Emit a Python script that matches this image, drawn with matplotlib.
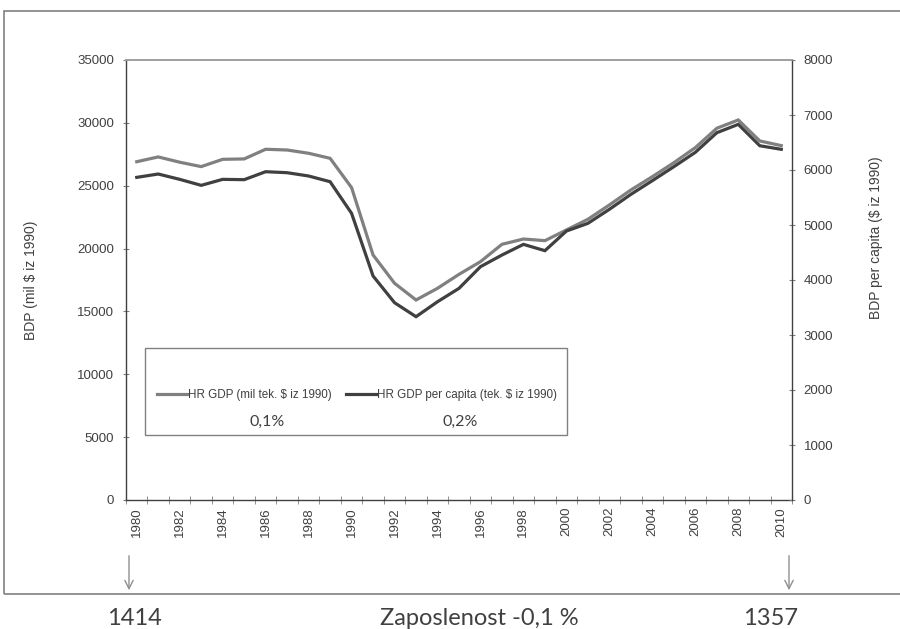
import matplotlib
matplotlib.use("Agg")
import matplotlib.pyplot as plt
from matplotlib.patches import Rectangle, FancyArrowPatch
import numpy as np

years = list(range(1980, 2011))
gdp = [26910, 27290, 26870, 26520, 27100, 27130, 27900, 27840, 27580, 27180,
       24850, 19490, 17240, 15910, 16840, 17950, 18960, 20340, 20760, 20630,
       21480, 22330, 23470, 24660, 25720, 26830, 28030, 29570, 30230, 28560, 28190]
gdp_pc = [5866, 5927, 5830, 5721, 5830, 5824, 5969, 5951, 5891, 5787,
          5212, 4073, 3587, 3333, 3605, 3848, 4242, 4454, 4648, 4533,
          4890, 5030, 5285, 5557, 5806, 6060, 6321, 6678, 6830, 6441, 6376]
left_ticks = [0, 5000, 10000, 15000, 20000, 25000, 30000, 35000]
right_ticks = [0, 1000, 2000, 3000, 4000, 5000, 6000, 7000, 8000]
label_gdp = "HR GDP (mil tek. $ iz 1990)"
label_pc = "HR GDP per capita (tek. $ iz 1990)"
growth = ["0,1%", "0,2%"]
emp_start, emp_end, emp_text = "1414", "1357", "Zaposlenost -0,1 %"

plt.rcParams['font.family'] = ['Liberation Sans', 'DejaVu Sans']
W, H = 900, 629
fig = plt.figure(figsize=(9, 6.29), dpi=100)

def fx(px):
    return px / W

def fy(py):
    return 1 - py / H

ax = fig.add_axes([fx(126), fy(500), fx(792) - fx(126), fy(60) - fy(500)])
ax2 = ax.twinx()
txt = '#404040'
x = np.arange(len(years))

l1, = ax.plot(x, gdp, color='#808080', lw=2.3, label=label_gdp, solid_joinstyle='miter')
l2, = ax2.plot(x, gdp_pc, color='#404040', lw=2.3, label=label_pc, solid_joinstyle='miter')

ax.set_xlim(-0.5, len(years) - 0.5)
ax.set_ylim(0, 35000)
ax2.set_ylim(0, 8000)
ax.set_yticks(left_ticks)
ax2.set_yticks(right_ticks)
ax.set_xticks(x[::2])
ax.set_xticklabels([str(y) for y in years[::2]], rotation=90, fontsize=9.5, color=txt)
ax.set_xticks(np.arange(-0.5, len(years)), minor=True)
ax.tick_params(axis='x', which='major', length=0, pad=5)
ax.tick_params(axis='x', which='minor', length=6, direction='inout', color='#808080')
ax.tick_params(axis='y', labelsize=9.5, labelcolor=txt, length=5, direction='inout', color='#808080', pad=6)
ax2.tick_params(axis='y', labelsize=9.5, labelcolor=txt, length=5, direction='inout', color='#808080', pad=6)

for a in (ax, ax2):
    a.spines['top'].set_color('#a0a0a0')
    a.spines['top'].set_linewidth(1.2)
    for s in ('left', 'right', 'bottom'):
        a.spines[s].set_color('#404040')
        a.spines[s].set_linewidth(1.0)
ax.spines['right'].set_visible(False)
ax2.spines['left'].set_visible(False)
ax2.spines['bottom'].set_visible(False)

fig.text(fx(31), fy(280), "BDP (mil $ iz 1990)", rotation=90, ha='center', va='center', fontsize=10, color=txt)
fig.text(fx(876), fy(238), "BDP per capita ($ iz 1990)", rotation=90, ha='center', va='center', fontsize=10, color=txt)

# legend box
fig.patches.append(Rectangle((fx(145), fy(435)), fx(567) - fx(145), fy(348) - fy(435),
                             transform=fig.transFigure, fill=False, edgecolor='#808080', lw=1.0))
leg = fig.legend(handles=[l1, l2], loc='center', bbox_to_anchor=(fx(357), fy(395)), ncol=2,
                 frameon=False, fontsize=8.4, handlelength=2.6, handletextpad=0.1,
                 columnspacing=1.2, labelcolor=txt)
fig.text(fx(267), fy(422), growth[0], ha='center', va='center', fontsize=11.5, color=txt, family=['Lato', 'DejaVu Sans'])
fig.text(fx(460), fy(422), growth[1], ha='center', va='center', fontsize=11.5, color=txt, family=['Lato', 'DejaVu Sans'])

# outer box
fig.patches.append(Rectangle((fx(4), fy(594)), fx(910) - fx(4), fy(11) - fy(594),
                             transform=fig.transFigure, fill=False, edgecolor='#808080', lw=1.2, clip_on=False))

# arrows
for px in (129, 789):
    fig.patches.append(FancyArrowPatch((fx(px), fy(553)), (fx(px), fy(593)),
                       transform=fig.transFigure, arrowstyle='->,head_length=6,head_width=3',
                       color='#909090', lw=1.0, mutation_scale=1))

fig.text(fx(134), fy(625), emp_start, ha='center', va='baseline', fontsize=17, color=txt, family=['Lato', 'DejaVu Sans'])
fig.text(fx(479), fy(625), emp_text, ha='center', va='baseline', fontsize=17, color=txt, family=['Lato', 'DejaVu Sans'])
fig.text(fx(771), fy(625), emp_end, ha='center', va='baseline', fontsize=17, color=txt, family=['Lato', 'DejaVu Sans'])

fig.savefig("out.png", dpi=100)
